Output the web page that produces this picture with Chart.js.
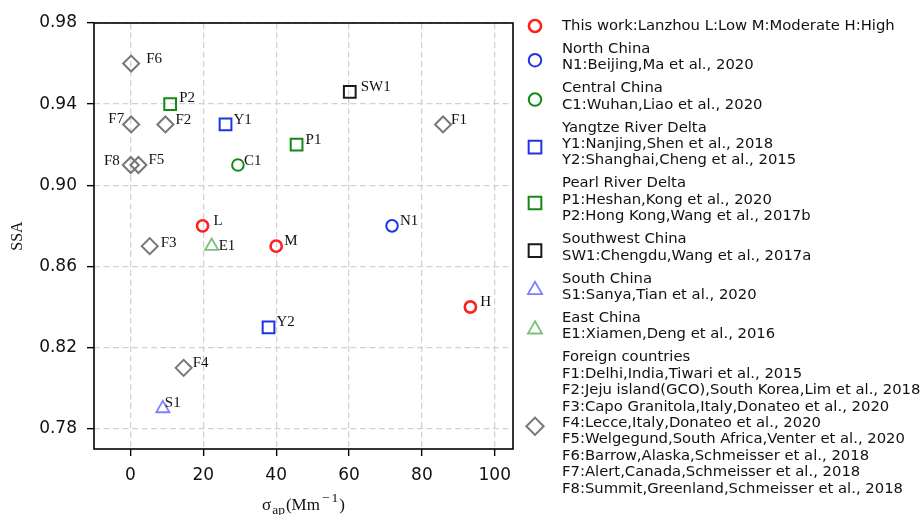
<!DOCTYPE html>
<html>
<head>
<meta charset="utf-8">
<script src="https://cdn.jsdelivr.net/npm/chart.js@4.4.1/dist/chart.umd.min.js"></script>
<style>
  html, body { margin: 0; padding: 0; background: #fff; }
  #wrap { width: 922px; height: 515px; position: relative; }
</style>
</head>
<body>
<div id="wrap"><canvas id="chart"></canvas></div>
<script>
// Axis ticks
const xTicks = [0, 20, 40, 60, 80, 100]
const yTicks = [0.78, 0.82, 0.86, 0.90, 0.94, 0.98]

// Points per region (sigma_ap, SSA)
const thisWork  = [{ x: 19.8, y: 0.880, tag: "L" }, { x: 40.0, y: 0.870, tag: "M" }, { x: 93.3, y: 0.840, tag: "H" }]
const north     = [{ x: 71.8, y: 0.880, tag: "N1" }]
const central   = [{ x: 29.5, y: 0.910, tag: "C1" }]
const yangtze   = [{ x: 26.1, y: 0.930, tag: "Y1" }, { x: 37.9, y: 0.830, tag: "Y2" }]
const pearl     = [{ x: 45.6, y: 0.920, tag: "P1" }, { x: 10.9, y: 0.940, tag: "P2" }]
const southwest = [{ x: 60.2, y: 0.946, tag: "SW1" }]
const south     = [{ x: 8.9,  y: 0.790, tag: "S1" }]
const east      = [{ x: 22.3, y: 0.870, tag: "E1" }]
const foreign   = [
  { x: 85.8, y: 0.930, tag: "F1" }, { x: 9.6,  y: 0.930, tag: "F2" },
  { x: 5.3,  y: 0.870, tag: "F3" }, { x: 14.6, y: 0.810, tag: "F4" },
  { x: 2.2,  y: 0.910, tag: "F5" }, { x: 0.2,  y: 0.960, tag: "F6" },
  { x: 0.2,  y: 0.930, tag: "F7" }, { x: 0.1,  y: 0.910, tag: "F8" },
]

// Legend text, one array per entry
const thisWorkText  = ["This work:Lanzhou L:Low M:Moderate H:High"]
const northText     = ["North China", "N1:Beijing,Ma et al., 2020"]
const centralText   = ["Central China", "C1:Wuhan,Liao et al., 2020"]
const yangtzeText   = ["Yangtze River Delta", "Y1:Nanjing,Shen et al., 2018", "Y2:Shanghai,Cheng et al., 2015"]
const pearlText     = ["Pearl River Delta", "P1:Heshan,Kong et al., 2020", "P2:Hong Kong,Wang et al., 2017b"]
const southwestText = ["Southwest China", "SW1:Chengdu,Wang et al., 2017a"]
const southText     = ["South China", "S1:Sanya,Tian et al., 2020"]
const eastText      = ["East China", "E1:Xiamen,Deng et al., 2016"]
const foreignText   = [
  "Foreign countries",
  "F1:Delhi,India,Tiwari et al., 2015",
  "F2:Jeju island(GCO),South Korea,Lim et al., 2018",
  "F3:Capo Granitola,Italy,Donateo et al., 2020",
  "F4:Lecce,Italy,Donateo et al., 2020",
  "F5:Welgegund,South Africa,Venter et al., 2020",
  "F6:Barrow,Alaska,Schmeisser et al., 2018",
  "F7:Alert,Canada,Schmeisser et al., 2018",
  "F8:Summit,Greenland,Schmeisser et al., 2018",
]

// --- styling ---

const SERIF = "'Liberation Serif', 'Times New Roman', serif"
const SANS  = "'DejaVu Sans', sans-serif"

// label offset from marker centre [dx, dy]; negative dx = text on the left
const TAG_OFFSET = {
  L: [11, -5], M: [8, -5], H: [10, -5], N1: [8, -5], C1: [6, -4],
  Y1: [8, -4], Y2: [8, -5], P1: [9, -5], P2: [9, -6], SW1: [11, -5],
  S1: [2, -5], E1: [7, 0],
  F1: [8, -4], F2: [10, -4], F3: [11, -3], F4: [9, -5], F5: [10, -5],
  F6: [15, -5], F7: [-7, -5], F8: [-11, -4],
}

function group(data, legend, color, style, radius, width) {
  return {
    data, legendLines: legend, showLine: false,
    pointStyle: style, pointRadius: radius, pointBorderWidth: width,
    pointBorderColor: color, pointBackgroundColor: "rgba(0,0,0,0)",
    borderColor: color, backgroundColor: "rgba(0,0,0,0)",
  }
}

const datasets = [
  group(thisWork,  thisWorkText,  "#ff2020", "circle",   5.6, 2.6),
  group(north,     northText,     "#1d33e6", "circle",   5.8, 2),
  group(central,   centralText,   "#138a13", "circle",   5.8, 2),
  group(yangtze,   yangtzeText,   "#1d33e6", "rect",     8.3, 2),
  group(pearl,     pearlText,     "#138a13", "rect",     8.3, 2),
  group(southwest, southwestText, "#1a1a1a", "rect",     8.3, 2),
  group(south,     southText,     "#7f7fff", "triangle", 7.6, 1.8),
  group(east,      eastText,      "#7fbf7f", "triangle", 7.6, 1.8),
  group(foreign,   foreignText,   "#777777", "rectRot",  8,   2),
]

const frame = {
  id: "frame",
  beforeDatasetsDraw(chart) {
    const { ctx, chartArea: a } = chart
    ctx.save()
    ctx.strokeStyle = "#000"
    ctx.lineWidth = 1.6
    ctx.strokeRect(a.left, a.top, a.right - a.left, a.bottom - a.top)
    ctx.restore()
  },
}

const pointTags = {
  id: "pointTags",
  afterDatasetsDraw(chart) {
    const ctx = chart.ctx
    ctx.save()
    ctx.font = "15px " + SERIF
    ctx.fillStyle = "#111"
    ctx.textBaseline = "middle"
    chart.data.datasets.forEach((ds, i) => {
      chart.getDatasetMeta(i).data.forEach((el, j) => {
        const tag = ds.data[j].tag
        const [dx, dy] = TAG_OFFSET[tag] || [9, -5]
        ctx.textAlign = dx < 0 ? "right" : "left"
        ctx.fillText(tag, el.x + dx, el.y + dy)
      })
    })
    ctx.restore()
  },
}

// sigma_ap (Mm^-1) with sub/superscript, drawn piece by piece
const xTitle = {
  id: "xTitle",
  afterDraw(chart) {
    const { ctx, chartArea: a } = chart
    const big = "17px " + SERIF, small = "13.5px " + SERIF
    // [text, font, baseline shift, extra space after]
    const parts = [
      ["σ", big, 0, 1], ["ap", small, 4, 1], ["(Mm", big, 0, 2],
      ["−", small, -8, 2], ["1", small, -8, 1], [")", big, 0, 0],
    ]
    ctx.save()
    ctx.fillStyle = "#111"
    ctx.textBaseline = "alphabetic"
    ctx.textAlign = "left"
    let w = 0
    parts.forEach(([t, f, , sp]) => { ctx.font = f; w += ctx.measureText(t).width + sp })
    let x = (a.left + a.right) / 2 - w / 2
    parts.forEach(([t, f, dy, sp]) => {
      ctx.font = f
      ctx.fillText(t, x, 510 + dy)
      x += ctx.measureText(t).width + sp
    })
    ctx.restore()
  },
}

const sideLegend = {
  id: "sideLegend",
  afterDraw(chart) {
    const ctx = chart.ctx
    const markX = 535, textX = 562, step = 16.4, gap = 6.6
    let y = 26
    ctx.save()
    chart.data.datasets.forEach(ds => {
      const lines = ds.legendLines
      const mid = y + (lines.length - 1) * step / 2 + (lines.length > 1 ? 3 : 0)
      ctx.save()
      ctx.strokeStyle = ds.pointBorderColor
      ctx.fillStyle = "rgba(0,0,0,0)"
      ctx.lineWidth = ds.pointBorderWidth
      Chart.helpers.drawPoint(ctx, {
        pointStyle: ds.pointStyle, radius: ds.pointRadius * 1.08,
        borderWidth: ds.pointBorderWidth, rotation: 0,
      }, markX, mid)
      ctx.restore()
      ctx.font = "14.8px " + SANS
      ctx.fillStyle = "#111"
      ctx.textAlign = "left"
      ctx.textBaseline = "middle"
      lines.forEach((t, k) => ctx.fillText(t, textX, y + k * step))
      y += lines.length * step + gap
    })
    ctx.restore()
  },
}

const gridStyle = {
  color: "#d2d2d2", lineWidth: 1.3,
  drawTicks: true, tickLength: 7, tickColor: "#000", tickWidth: 1.4, tickBorderDash: [],
}
const borderStyle = { display: false, dash: [6, 3.5] }

new Chart(document.getElementById("chart"), {
  type: "scatter",
  data: { datasets },
  options: {
    responsive: true,
    maintainAspectRatio: false,
    animation: false,
    events: [],
    layout: { padding: { top: 23, right: 409, left: 0, bottom: 0 } },
    plugins: { legend: { display: false }, tooltip: { enabled: false } },
    scales: {
      x: {
        type: "linear", min: -10, max: 105,
        afterBuildTicks: (s) => { s.ticks = xTicks.map(v => ({ value: v })) },
        afterFit: (s) => { s.height = 66 },
        grid: gridStyle,
        border: borderStyle,
        ticks: { font: { family: SANS, size: 17 }, color: "#111", padding: 9, maxRotation: 0 },
      },
      y: {
        type: "linear", min: 0.77, max: 0.98,
        afterBuildTicks: (s) => { s.ticks = yTicks.map(v => ({ value: v })) },
        afterFit: (s) => { s.width = 94 },
        grid: gridStyle,
        border: borderStyle,
        ticks: { font: { family: SANS, size: 17 }, color: "#111", padding: 10, callback: (v) => v.toFixed(2) },
        title: { display: true, text: "SSA", font: { family: SERIF, size: 16 }, color: "#111", padding: 8 },
      },
    },
  },
  plugins: [frame, pointTags, xTitle, sideLegend],
})
</script>
</body>
</html>
